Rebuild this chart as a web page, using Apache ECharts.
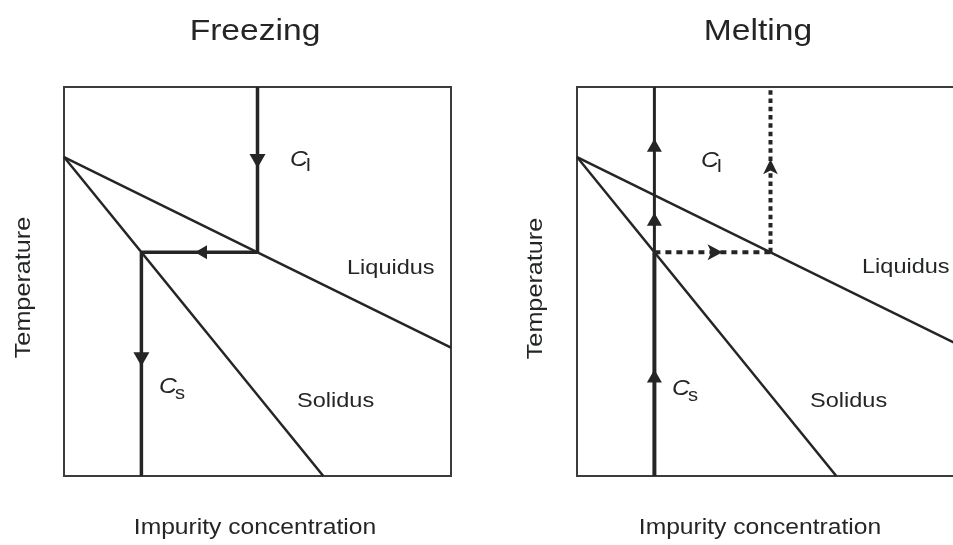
<!DOCTYPE html>
<html>
<head>
<meta charset="utf-8">
<style>html,body{margin:0;padding:0;background:#fff;}#chart{width:953px;height:545px;}</style>
<script src="https://cdn.jsdelivr.net/npm/echarts@6/dist/echarts.min.js"></script>
</head>
<body>
<div id="chart"></div>
<script>
// ---- data (axis units: impurity concentration 0..100, temperature 0..100) ----
const panelTitles = ['Freezing', 'Melting'];
const xAxisName = 'Impurity concentration';
const yAxisName = 'Temperature';
const curveLabels = ['Liquidus', 'Solidus'];
const liquidus = [[0, 82], [100, 33]];
const solidus = [[0, 82], [67, 0]];
// freezing path
const freezeLiquid = [[50, 100], [50, 57.5]];
const freezeTie = [[50, 57.5], [20, 57.5]];
const freezeSolid = [[20, 57.5], [20, 0]];
const freezeArrowsDown = [[50, 81], [20, 30]];
const freezeArrowsLeft = [[35.4, 57.5]];
// melting path
const meltSolidLower = [[20, 0], [20, 57.5]];
const meltSolidUpper = [[20, 57.5], [20, 100]];
const meltTie = [[20, 57.5], [50, 57.5]];
const meltLiquid = [[50, 57.5], [50, 100]];
const meltArrowsUp = [[20, 85], [20, 66], [20, 25.7]];
const meltChevronRight = [[37.6, 57.5]];
const meltChevronUp = [[50, 81.4]];

const INK = '#232526';
const FONT = '"Liberation Sans", Arial, Helvetica, sans-serif';
const SX = 1.12;

function lineSeries(data, gi, width, type) {
  return {
    type: 'line', data: data, xAxisIndex: gi, yAxisIndex: gi,
    showSymbol: false, symbol: 'none', silent: true, animation: false,
    lineStyle: { color: INK, width: width, type: type || 'solid', cap: 'butt' },
    z: 3
  };
}
function arrowSeries(data, gi, symbol, size, rotate) {
  return {
    type: 'scatter', data: data, xAxisIndex: gi, yAxisIndex: gi,
    symbol: symbol, symbolSize: size, symbolRotate: rotate, silent: true, animation: false,
    itemStyle: { color: INK, opacity: 1 }, z: 5
  };
}
function txt(x, y, text, size, opts) {
  opts = opts || {};
  return {
    type: 'text', x: x, y: y, rotation: opts.rotation || 0, scaleX: SX, silent: true,
    style: {
      text: text, fill: INK,
      font: (opts.italic ? 'italic ' : '') + size + 'px ' + FONT,
      align: opts.align || 'left', verticalAlign: 'middle'
    }
  };
}

const axisCommon = { type: 'value', min: 0, max: 100, show: false };

const chart = echarts.init(document.getElementById('chart'), null, { renderer: 'canvas' });
chart.setOption({
  animation: false,
  backgroundColor: '#ffffff',
  grid: [
    { left: 64, top: 87, width: 387, height: 389, outerBoundsMode: 'none', containLabel: false, show: true, borderColor: '#3c3c3c', borderWidth: 2, backgroundColor: 'transparent' },
    { left: 577, top: 87, width: 387, height: 389, outerBoundsMode: 'none', containLabel: false, show: true, borderColor: '#3c3c3c', borderWidth: 2, backgroundColor: 'transparent' }
  ],
  xAxis: [Object.assign({ gridIndex: 0 }, axisCommon), Object.assign({ gridIndex: 1 }, axisCommon)],
  yAxis: [Object.assign({ gridIndex: 0 }, axisCommon), Object.assign({ gridIndex: 1 }, axisCommon)],
  series: [
    lineSeries(liquidus, 0, 2.5), lineSeries(solidus, 0, 2.5),
    lineSeries(freezeLiquid, 0, 3.5), lineSeries(freezeTie, 0, 3.5), lineSeries(freezeSolid, 0, 3.5),
    arrowSeries(freezeArrowsDown, 0, 'triangle', [16, 14], 180),
    arrowSeries(freezeArrowsLeft, 0, 'triangle', [14, 12], 90),
    lineSeries(liquidus, 1, 2.5), lineSeries(solidus, 1, 2.5),
    lineSeries(meltSolidLower, 1, 4), lineSeries(meltSolidUpper, 1, 3),
    lineSeries(meltTie, 1, 4, [6, 5]), lineSeries(meltLiquid, 1, 4, [4.5, 3.8]),
    arrowSeries(meltArrowsUp, 1, 'triangle', [15, 13], 0),
    arrowSeries(meltChevronRight, 1, 'arrow', [12, 15], -90),
    arrowSeries(meltChevronUp, 1, 'arrow', [11, 15], 0)
  ],
  graphic: [
    txt(255, 32, panelTitles[0], 30, { align: 'center' }),
    txt(758, 32, panelTitles[1], 30, { align: 'center' }),
    txt(23.6, 287.5, yAxisName, 22.5, { align: 'center', rotation: Math.PI / 2 }),
    txt(535.6, 288.5, yAxisName, 22.5, { align: 'center', rotation: Math.PI / 2 }),
    txt(255, 528, xAxisName, 22, { align: 'center' }),
    txt(760, 528, xAxisName, 22, { align: 'center' }),
    // left panel labels
    txt(347, 268.6, curveLabels[0], 21),
    txt(297, 401.6, curveLabels[1], 21),
    txt(290, 160.3, 'C', 22, { italic: true }),
    txt(306, 165.4, 'l', 19),
    txt(159, 387.3, 'C', 22, { italic: true }),
    txt(175, 393.7, 's', 18),
    // right panel labels
    txt(862, 267.6, curveLabels[0], 21),
    txt(810, 401.6, curveLabels[1], 21),
    txt(701, 161.3, 'C', 22, { italic: true }),
    txt(717, 166.4, 'l', 19),
    txt(672, 389.3, 'C', 22, { italic: true }),
    txt(688, 395.7, 's', 18)
  ]
});
</script>
</body>
</html>
